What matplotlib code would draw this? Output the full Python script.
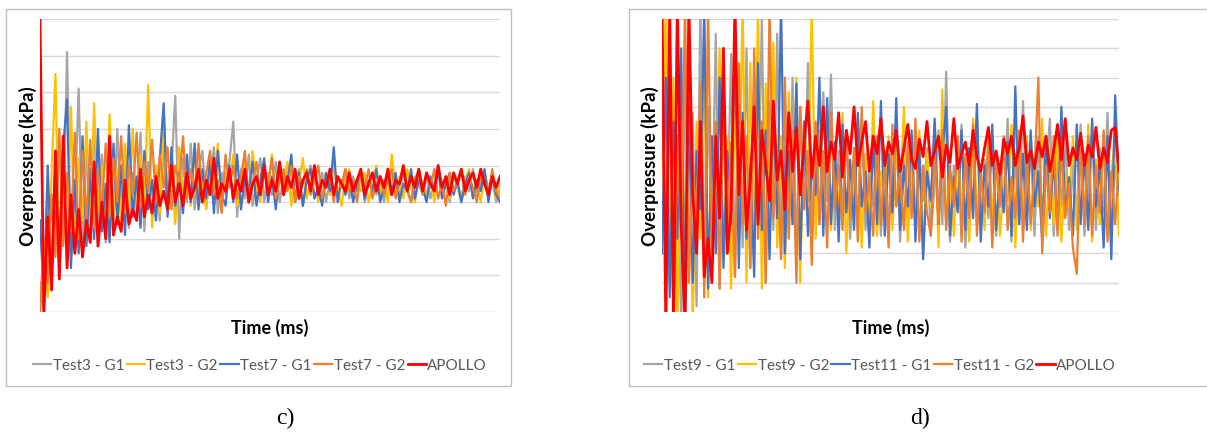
import numpy as np
import matplotlib.pyplot as plt
from matplotlib.patches import Rectangle

# panel c) values (grid units, 0..8)
c_test3_g1 = [0.8, 0.0, 3.5, 0.6, 4.0, 1.2, 2.4, 7.1, 1.5, 3.0,
              6.1, 1.8, 4.5, 2.0, 5.2, 2.3, 4.3, 1.9, 3.6, 2.4,
              5.0, 2.6, 4.4, 2.3, 3.8, 2.9, 4.9, 2.2, 4.1, 2.8,
              3.5, 2.5, 4.6, 2.7, 3.9, 5.9, 2.0, 4.2, 3.0, 4.6,
              2.8, 3.9, 4.4, 2.9, 3.6, 4.5, 2.7, 3.8, 3.2, 4.1,
              5.2, 2.6, 3.9, 3.1, 4.3, 2.9, 3.6, 4.2, 3.0, 3.8,
              3.2, 4.1, 3.0, 3.7, 4.0, 3.1, 3.5, 3.9, 2.9, 3.6,
              4.0, 3.1, 3.4, 3.8, 3.0, 3.6, 4.1, 3.2, 3.5, 3.9,
              3.1, 3.7, 3.3, 3.9, 3.0, 3.5, 3.8, 3.2, 3.6, 3.0,
              3.8, 3.3, 3.6, 3.1, 3.9, 3.4, 3.0, 3.7, 3.5, 3.2,
              3.8, 3.1, 3.5, 3.9, 3.2, 3.6, 3.0, 3.8, 3.4, 3.1,
              3.7, 3.3, 3.9, 3.2, 3.5, 3.8, 3.1, 3.6, 3.0, 3.4]
c_test3_g2 = [0.0, 1.5, 0.4, 3.8, 6.5, 1.0, 3.5, 2.0, 5.6, 1.8,
              4.2, 2.5, 5.2, 1.9, 5.7, 2.8, 4.0, 2.2, 5.4, 2.6,
              3.9, 2.4, 4.6, 2.9, 5.0, 2.5, 4.3, 3.0, 6.2, 2.3,
              4.0, 2.7, 5.5, 3.1, 3.8, 2.4, 4.5, 3.3, 4.1, 2.9,
              4.4, 3.2, 3.7, 2.8, 4.2, 3.4, 4.6, 3.0, 3.8, 3.5,
              4.3, 2.9, 3.6, 4.1, 3.1, 4.4, 3.3, 3.0, 4.0, 3.4,
              4.3, 3.0, 3.7, 3.3, 4.1, 2.9, 3.8, 3.5, 4.2, 3.1,
              3.6, 3.9, 3.0, 3.5, 3.8, 3.2, 4.0, 3.4, 2.9, 3.7,
              3.9, 3.1, 3.6, 3.3, 3.8, 3.0, 3.5, 4.0, 3.2, 3.6,
              3.0, 4.3, 3.3, 3.7, 3.1, 3.9, 3.4, 3.0, 3.8, 3.5,
              3.2, 3.7, 3.0, 3.9, 3.3, 3.6, 3.1, 3.8, 3.4, 3.0,
              3.6, 3.9, 3.2, 3.5, 3.0, 3.8, 3.4, 3.7, 3.1, 3.5]
c_test7_g1 = [2.5, 0.4, 4.0, 1.0, 2.8, 1.5, 4.5, 5.8, 1.2, 3.6,
              1.6, 4.8, 1.8, 3.9, 2.0, 5.0, 2.2, 3.5, 1.9, 4.6,
              2.4, 4.0, 2.1, 5.1, 2.6, 3.7, 2.3, 4.4, 2.8, 3.6,
              2.5, 4.2, 5.7, 2.6, 4.5, 2.9, 3.8, 2.7, 4.3, 3.0,
              4.6, 2.8, 3.9, 3.1, 4.2, 2.7, 4.4, 3.2, 2.9, 4.0,
              3.0, 4.3, 2.8, 3.7, 3.3, 4.1, 2.9, 3.6, 4.2, 3.0,
              3.7, 2.8, 4.0, 3.2, 3.5, 4.3, 3.0, 3.8, 2.9, 3.6,
              3.9, 3.1, 3.4, 2.9, 3.8, 3.3, 4.5, 3.0, 3.6, 3.2,
              3.7, 3.0, 3.5, 3.8, 3.1, 3.6, 3.3, 3.9, 3.0, 3.4,
              3.7, 3.2, 3.8, 3.0, 3.5, 3.3, 3.9, 3.1, 3.6, 3.4,
              3.0, 3.7, 3.3, 3.9, 3.1, 3.5, 3.8, 3.2, 3.6, 3.0,
              3.5, 3.8, 3.1, 3.6, 3.3, 3.9, 3.0, 3.7, 3.2, 3.0]
c_test7_g2 = [0.0, 2.0, 0.8, 3.2, 1.5, 5.0, 1.8, 3.8, 2.2, 4.9,
              2.0, 4.4, 2.5, 4.7, 2.3, 3.9, 2.8, 4.6, 2.6, 4.2,
              3.0, 4.8, 2.7, 4.0, 3.2, 4.9, 2.9, 4.1, 3.3, 4.7,
              3.0, 4.3, 3.4, 4.5, 2.8, 4.0, 3.5, 4.8, 3.1, 3.9,
              3.3, 4.6, 3.0, 3.8, 4.4, 3.2, 3.6, 2.7, 4.3, 3.4,
              4.0, 3.1, 3.7, 4.4, 3.0, 3.5, 4.1, 3.2, 3.8, 3.4,
              4.2, 3.1, 3.6, 3.9, 3.3, 4.0, 3.0, 3.7, 3.5, 3.9,
              3.2, 3.6, 4.0, 3.1, 3.5, 3.8, 3.0, 3.7, 3.4, 3.9,
              3.3, 3.6, 3.0, 3.8, 3.4, 3.9, 3.1, 3.5, 3.7, 3.2,
              3.6, 3.9, 3.1, 3.5, 3.8, 3.3, 3.0, 3.6, 3.9, 3.2,
              3.7, 3.4, 3.9, 3.1, 3.5, 2.9, 3.8, 3.3, 3.6, 3.9,
              3.2, 3.7, 3.4, 3.0, 3.8, 3.5, 3.2, 3.9, 3.3, 3.1]
c_apollo = [8.0, 0.0, 2.6, 0.6, 4.4, 0.9, 4.8, 1.2, 3.2, 1.6,
            2.8, 1.5, 2.5, 1.9, 4.1, 1.8, 3.0, 2.0, 4.8, 2.1,
            2.6, 2.2, 3.6, 2.4, 2.8, 2.5, 3.9, 2.6, 3.2, 2.7,
            3.7, 2.9, 3.3, 2.8, 4.0, 3.0, 3.5, 2.9, 3.8, 3.1,
            3.4, 3.9, 3.0, 3.6, 3.2, 4.2, 3.1, 3.5, 3.3, 3.9,
            3.1, 3.6, 3.3, 3.9, 3.0, 3.5, 3.7, 3.2, 4.0, 3.2,
            3.6, 3.3, 4.1, 3.2, 3.7, 3.4, 3.9, 3.1, 3.6, 3.8,
            3.3, 4.0, 3.2, 3.6, 3.4, 3.9, 3.2, 3.7, 3.5, 3.3,
            3.8, 3.3, 3.6, 3.9, 3.2, 3.5, 3.8, 3.3, 3.7, 3.4,
            3.9, 3.2, 3.6, 3.5, 4.0, 3.3, 3.7, 3.4, 3.9, 3.3,
            3.8, 3.5, 3.3, 4.0, 3.4, 3.7, 3.2, 3.8, 3.5, 3.9,
            3.3, 3.6, 3.8, 3.4, 3.9, 3.5, 3.2, 3.7, 3.4, 3.7]

# panel d) values (grid units, 0..10)
d_test9_g1 = [9.0, 2.0, 7.5, 0.5, 6.0, -0.5, 8.5, 1.5, 6.8, 0.2,
              10.5, 1.0, 7.0, 2.5, 9.5, 0.8, 6.5, 3.0, 8.8, 1.2,
              7.5, 2.2, 9.0, 1.5, 6.8, 3.5, 10.0, 1.0, 7.2, 2.8,
              9.5, 1.8, 6.5, 3.2, 8.0, 2.0, 7.0, 3.5, 8.5, 2.5,
              6.0, 3.0, 7.5, 3.8, 8.1, 2.8, 5.5, 3.5, 6.2, 2.5,
              5.0, 3.2, 6.5, 2.8, 4.8, 3.6, 6.0, 2.6, 5.5, 3.0,
              4.6, 6.5, 2.4, 5.2, 3.4, 6.0, 2.8, 4.8, 3.8, 5.6,
              2.6, 4.4, 6.2, 3.0, 8.2, 2.4, 5.0, 3.6, 6.4, 2.2,
              4.8, 3.4, 6.8, 2.8, 5.2, 3.2, 6.0, 2.6, 4.6, 3.8,
              6.6, 2.4, 5.4, 3.0, 7.2, 3.2, 5.8, 2.6, 6.0, 3.4,
              4.8, 6.6, 2.6, 5.2, 3.6, 6.0, 2.8, 5.0, 3.2, 6.4,
              2.6, 4.6, 6.2, 2.8, 5.6, 3.4, 6.8, 2.4, 5.0, 4.0]
d_test9_g2 = [5.0, 10.5, 1.0, 8.0, -0.5, 7.0, 2.0, 9.0, -0.5, 6.5,
              2.5, 8.2, 0.5, 5.5, 3.0, 9.0, 1.8, 6.0, 0.8, 7.5,
              3.5, 10.5, 1.0, 8.5, 2.0, 10.5, 0.8, 7.8, 3.0, 9.2,
              2.2, 6.0, 1.5, 7.5, 3.0, 8.0, 1.0, 6.5, 3.8, 10.5,
              2.5, 6.2, 4.0, 7.0, 2.8, 5.5, 3.2, 6.8, 2.0, 5.0,
              3.8, 6.6, 2.2, 5.4, 3.0, 7.2, 2.6, 4.8, 3.6, 6.0,
              2.8, 5.6, 3.8, 7.0, 2.4, 5.0, 3.2, 6.2, 2.0, 5.4,
              3.6, 6.4, 2.2, 7.6, 3.0, 4.8, 2.6, 6.0, 3.4, 5.2,
              2.4, 6.6, 3.4, 4.6, 2.8, 6.2, 3.0, 5.4, 2.6, 4.6,
              3.8, 6.4, 2.2, 5.6, 3.2, 6.0, 2.8, 5.0, 3.6, 6.6,
              2.6, 5.4, 3.0, 6.2, 2.4, 4.8, 3.6, 6.0, 2.8, 5.6,
              3.2, 6.4, 2.4, 5.2, 3.0, 6.0, 2.8, 4.6, 6.2, 2.6]
d_test11_g1 = [2.0, 8.0, 0.5, 6.5, 2.5, 9.0, -0.5, 7.0, 1.0, 5.5,
               3.5, 10.5, 0.8, 6.0, 2.0, 8.0, 1.5, 5.5, 3.0, 9.5,
               1.5, 6.8, 2.5, 5.0, 1.2, 8.5, 2.8, 6.2, 1.8, 7.0,
               3.2, 10.5, 2.0, 5.5, 3.0, 7.8, 1.8, 6.5, 2.6, 5.0,
               4.0, 8.0, 2.6, 7.3, 3.0, 5.8, 2.4, 6.4, 3.4, 5.2,
               2.8, 6.8, 3.6, 4.8, 2.2, 6.0, 3.0, 7.2, 2.6, 5.4,
               3.4, 7.3, 2.8, 5.0, 3.6, 6.2, 2.4, 5.6, 1.8, 4.8,
               3.8, 6.6, 3.0, 5.4, 7.0, 2.6, 4.6, 3.4, 6.2, 2.8,
               5.6, 3.2, 7.1, 2.4, 5.0, 3.6, 6.4, 2.8, 4.8, 3.4,
               5.8, 2.6, 7.7, 3.0, 5.4, 2.8, 6.2, 3.6, 4.8, 2.4,
               6.0, 3.2, 5.2, 2.8, 7.0, 3.4, 4.6, 2.6, 6.4, 3.0,
               5.4, 2.8, 6.6, 3.6, 5.0, 2.2, 6.0, 1.8, 7.4, 4.2]
d_test11_g2 = [7.0, 1.5, 9.5, -0.5, 6.0, 2.5, 10.5, 1.0, 5.0, 3.0,
               7.8, 0.5, 10.5, 2.0, 6.5, 0.8, 7.5, 2.8, 5.8, 1.2,
               8.5, 3.0, 6.0, 1.5, 9.0, 2.5, 6.5, 1.0, 10.5, 3.2,
               5.5, 1.8, 8.0, 2.5, 6.2, 1.0, 7.0, 3.5, 5.5, 1.6,
               6.5, 3.0, 5.5, 2.2, 6.8, 3.5, 5.0, 2.8, 6.2, 3.2,
               5.6, 2.4, 7.0, 3.4, 4.6, 2.6, 6.0, 3.0, 5.2, 2.2,
               6.4, 3.6, 4.8, 2.8, 5.8, 3.2, 6.6, 2.4, 5.0, 3.4,
               2.6, 5.6, 3.0, 6.2, 2.8, 5.0, 3.6, 6.0, 2.4, 5.4,
               3.2, 6.4, 2.6, 4.8, 3.4, 5.8, 2.2, 5.2, 3.6, 6.0,
               2.8, 4.6, 3.2, 6.2, 2.4, 5.4, 3.0, 4.8, 8.0, 2.0,
               5.0, 3.4, 6.0, 2.6, 5.6, 3.2, 4.4, 2.2, 1.3, 5.8,
               3.0, 6.0, 2.6, 5.0, 3.4, 6.2, 2.4, 4.8, 3.0, 5.2]
d_apollo = [10.5, -0.5, 10.5, -0.5, 10.5, 3.0, -0.5, 10.5, 4.0, 2.0,
            6.5, 1.2, 2.5, 1.0, 6.0, 3.2, 9.0, 2.0, 3.5, 10.5,
            4.0, 6.5, 2.8, 4.5, 7.0, 3.0, 6.2, 5.0, 3.8, 7.2,
            4.5, 5.5, 3.5, 6.8, 4.8, 6.3, 4.0, 5.8, 7.2, 4.6,
            6.0, 5.0, 7.0, 4.8, 5.8, 5.2, 6.8, 4.6, 6.2, 5.4,
            7.0, 5.0, 5.8, 6.5, 4.8, 6.0, 5.4, 6.6, 5.0, 5.8,
            5.4, 6.2, 4.8, 5.6, 6.4, 5.2, 4.9, 5.9, 5.3, 6.5,
            5.0, 5.5, 6.0, 4.6, 5.7, 5.1, 6.6, 4.9, 5.4, 5.8,
            5.0, 6.2, 5.3, 4.8, 5.6, 6.3, 5.0, 5.5, 4.7, 5.9,
            5.4, 6.0, 5.0, 5.6, 6.7, 5.1, 5.5, 4.9, 5.8, 5.3,
            6.0, 4.8, 5.5, 6.4, 5.2, 6.6, 5.0, 5.6, 5.2, 6.1,
            5.0, 5.7, 5.3, 6.3, 4.9, 5.6, 5.1, 6.2, 6.3, 4.8]

colors = ["#a5a5a5", "#ffc000", "#4472c4", "#ed7d31", "#ff0000"]
W, H = 1207, 439

fig = plt.figure(figsize=(W / 100, H / 100), dpi=100)


def panel(left_px, right_px, ymax, series, labels, leg_x, box):
    ax = fig.add_axes([left_px / W, 1 - 313 / H, (right_px - left_px) / W, 293 / H])
    for s, lab, col in zip(series, labels, colors):
        t = np.arange(len(s))
        lw = 2.0 if lab == "APOLLO" else 1.6
        ax.plot(t, s, color=col, lw=lw, label=lab)
    ax.set_xlim(0, len(series[0]) - 1)
    ax.set_ylim(0, ymax)
    ax.set_yticks(range(ymax + 1))
    ax.set_xticks([])
    ax.tick_params(left=False, labelleft=False)
    ax.grid(axis="y", color="#d9d9d9", lw=1)
    ax.set_axisbelow(True)
    for sp in ax.spines.values():
        sp.set_visible(False)
    ax.set_ylabel("Overpressure (kPa)", family="Lato", fontweight="bold",
                  fontsize=13.5, labelpad=2)
    ax.set_xlabel("Time (ms)", family="Lato", fontweight="bold", fontsize=13,
                  labelpad=4)
    ax.legend(loc="center", bbox_to_anchor=(leg_x, 1 - 366 / H),
              bbox_transform=fig.transFigure, ncol=5, frameon=False,
              prop={"family": "Lato", "size": 11}, labelcolor="#595959",
              handlelength=1.2, handletextpad=0.1, columnspacing=0.15)
    fig.patches.append(Rectangle((box[0] / W, 1 - 387 / H), (box[1] - box[0]) / W,
                                 377 / H, transform=fig.transFigure,
                                 fill=False, ec="#bfbfbf", lw=1))
    return ax


panel(40, 500, 8, [c_test3_g1, c_test3_g2, c_test7_g1, c_test7_g2, c_apollo],
      ["Test3 - G1", "Test3 - G2", "Test7 - G1", "Test7 - G2", "APOLLO"],
      260 / W, (6, 511))
panel(662, 1119, 10, [d_test9_g1, d_test9_g2, d_test11_g1, d_test11_g2, d_apollo],
      ["Test9 - G1", "Test9 - G2", "Test11 - G1", "Test11 - G2", "APOLLO"],
      880 / W, (629, 1215))

fig.text(285 / W, 1 - 418 / H, "c)", family="Liberation Serif", fontsize=17,
         ha="center", va="center")
fig.text(920 / W, 1 - 418 / H, "d)", family="Liberation Serif", fontsize=17,
         ha="center", va="center")

fig.savefig("out.png", dpi=100)
